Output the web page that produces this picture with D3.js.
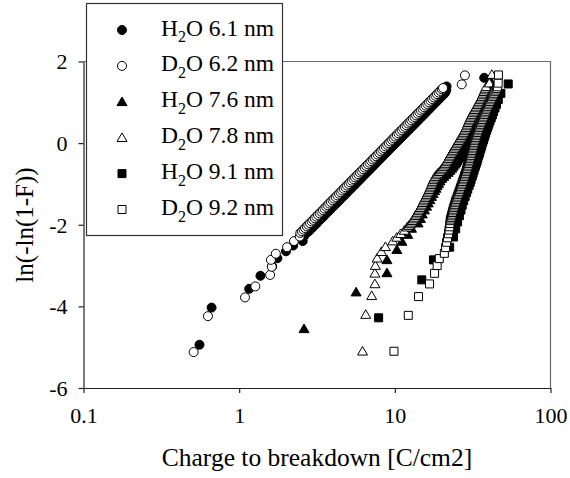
<!DOCTYPE html>
<html><head><meta charset="utf-8">
<script src="https://cdn.jsdelivr.net/npm/d3@7"></script>
<style>
body{margin:0;background:#fff}
svg{display:block}
</style>
</head><body>
<svg id="c" width="570" height="478" font-family="Liberation Serif, Times New Roman, DejaVu Serif, serif"></svg>
<script>
const FONT = "Liberation Serif, Times New Roman, DejaVu Serif, serif";
const xTicks = [0.1, 1, 10, 100];
const yTicks = [-6, -4, -2, 0, 2];
const seriesLabels = ["H2O 6.1 nm", "D2O 6.2 nm", "H2O 7.6 nm", "D2O 7.8 nm", "H2O 9.1 nm", "D2O 9.2 nm"];
const seriesShapes = ["circle", "circle", "triangle", "triangle", "square", "square"];
const seriesFilled = [true, false, true, false, true, false];
const xTitle = "Charge to breakdown [C/cm2]";
const yTitle = "ln(-ln(1-F))";

const h2o61 = [[0.556,-4.94],[0.665,-4.03],[1.16,-3.57],[1.37,-3.25],[1.63,-3.02],[1.76,-2.82],[2.00,-2.65],[2.22,-2.51],[2.56,-2.40],[2.62,-2.27],[2.76,-2.18],[2.83,-2.14],[2.90,-2.10],[2.97,-2.06],[3.04,-2.02],[3.12,-1.98],[3.19,-1.94],[3.26,-1.90],[3.34,-1.86],[3.43,-1.82],[3.51,-1.78],[3.59,-1.74],[3.67,-1.70],[3.77,-1.66],[3.85,-1.62],[3.94,-1.58],[4.05,-1.54],[4.14,-1.50],[4.24,-1.46],[4.35,-1.42],[4.45,-1.38],[4.55,-1.34],[4.67,-1.30],[4.78,-1.26],[4.90,-1.22],[5.01,-1.18],[5.13,-1.14],[5.26,-1.10],[5.38,-1.06],[5.52,-1.02],[5.64,-0.98],[5.79,-0.94],[5.92,-0.90],[6.07,-0.86],[6.21,-0.82],[6.35,-0.78],[6.51,-0.74],[6.67,-0.70],[6.83,-0.66],[7.00,-0.62],[7.16,-0.58],[7.34,-0.54],[7.51,-0.50],[7.69,-0.46],[7.88,-0.42],[8.06,-0.38],[8.26,-0.34],[8.46,-0.30],[8.66,-0.26],[8.87,-0.22],[9.09,-0.18],[9.30,-0.14],[9.52,-0.10],[9.76,-0.06],[9.99,-0.02],[10.23,0.02],[10.47,0.06],[10.73,0.10],[10.98,0.14],[11.25,0.18],[11.52,0.22],[11.80,0.26],[12.08,0.30],[12.37,0.34],[12.67,0.38],[12.98,0.42],[13.29,0.46],[13.61,0.50],[13.93,0.54],[14.27,0.58],[14.61,0.62],[14.97,0.66],[15.33,0.70],[15.69,0.74],[16.07,0.78],[16.46,0.82],[16.85,0.86],[17.26,0.90],[17.68,0.94],[18.10,0.98],[18.54,1.02],[18.98,1.06],[19.44,1.10],[19.91,1.14],[20.39,1.18],[20.88,1.22],[21.2,1.26],[21.4,1.31],[21.5,1.39],[37.5,1.60]];
const d2o62 = [[0.51,-5.12],[0.63,-4.24],[1.09,-3.78],[1.27,-3.51],[1.58,-3.23],[1.62,-3.03],[1.60,-2.86],[1.72,-2.71],[2.03,-2.55],[2.25,-2.40],[2.45,-2.29],[2.47,-2.20],[2.53,-2.16],[2.59,-2.12],[2.65,-2.08],[2.72,-2.04],[2.78,-2.00],[2.85,-1.96],[2.92,-1.92],[2.99,-1.88],[3.06,-1.84],[3.13,-1.80],[3.21,-1.76],[3.29,-1.72],[3.37,-1.68],[3.45,-1.64],[3.53,-1.60],[3.62,-1.56],[3.70,-1.52],[3.79,-1.48],[3.88,-1.44],[3.98,-1.40],[4.07,-1.36],[4.17,-1.32],[4.27,-1.28],[4.38,-1.24],[4.48,-1.20],[4.59,-1.16],[4.70,-1.12],[4.81,-1.08],[4.93,-1.04],[5.05,-1.00],[5.17,-0.96],[5.29,-0.92],[5.42,-0.88],[5.55,-0.84],[5.68,-0.80],[5.82,-0.76],[5.96,-0.72],[6.10,-0.68],[6.25,-0.64],[6.40,-0.60],[6.55,-0.56],[6.71,-0.52],[6.87,-0.48],[7.04,-0.44],[7.21,-0.40],[7.38,-0.36],[7.56,-0.32],[7.74,-0.28],[7.93,-0.24],[8.12,-0.20],[8.31,-0.16],[8.51,-0.12],[8.72,-0.08],[8.93,-0.04],[9.14,0.00],[9.36,0.04],[9.59,0.08],[9.82,0.12],[10.05,0.16],[10.30,0.20],[10.54,0.24],[10.80,0.28],[11.06,0.32],[11.32,0.36],[11.59,0.40],[11.87,0.44],[12.16,0.48],[12.45,0.52],[12.75,0.56],[13.06,0.60],[13.37,0.64],[13.69,0.68],[14.02,0.72],[14.36,0.76],[14.71,0.80],[15.06,0.84],[15.42,0.88],[15.79,0.92],[16.17,0.96],[16.56,1.00],[16.96,1.04],[17.37,1.08],[17.79,1.12],[18.22,1.16],[18.65,1.20],[19.10,1.24],[19.56,1.28],[20.03,1.32],[20.4,1.35],[26.9,1.44],[28.2,1.66]];
const h2o76 = [[2.61,-4.55],[5.64,-3.65],[8.9,-3.18],[8.9,-2.86],[10.3,-2.61],[11.1,-2.41],[12.1,-2.24],[12.8,-2.09],[14.1,-1.96],[14.6,-1.85],[15.0,-1.74],[15.5,-1.64],[16.0,-1.55],[16.4,-1.47],[16.8,-1.39],[17.2,-1.31],[17.6,-1.24],[18.0,-1.17],[18.4,-1.11],[18.7,-1.04],[19.1,-0.99],[19.5,-0.93],[20.0,-0.87],[20.6,-0.82],[21.3,-0.77],[22.0,-0.72],[22.6,-0.67],[23.2,-0.62],[23.7,-0.57],[24.2,-0.52],[24.7,-0.48],[25.1,-0.43],[25.6,-0.39],[26.0,-0.35],[26.4,-0.30],[26.9,-0.26],[27.3,-0.22],[27.7,-0.18],[28.1,-0.13],[28.5,-0.09],[29.0,-0.05],[29.4,-0.01],[29.8,0.03],[30.2,0.07],[30.6,0.11],[31.0,0.15],[31.4,0.20],[31.8,0.24],[32.2,0.28],[32.6,0.32],[33.0,0.37],[33.4,0.41],[33.8,0.46],[34.3,0.50],[34.8,0.55],[35.3,0.60],[35.9,0.65],[36.5,0.71],[37.2,0.77],[37.9,0.83],[38.6,0.90],[39.3,0.97],[40.0,1.06],[40.5,1.16],[40.8,1.30],[41.5,1.50]];
const d2o78 = [[6.2,-5.10],[6.5,-4.20],[7.1,-3.74],[7.45,-3.45],[7.45,-3.19],[7.5,-3.00],[7.7,-2.82],[8.2,-2.66],[8.7,-2.54],[9.7,-2.40],[10.3,-2.31],[10.9,-2.22],[11.5,-2.14],[12.0,-2.06],[12.3,-2.02],[12.6,-1.98],[12.8,-1.94],[13.0,-1.90],[13.2,-1.86],[13.4,-1.82],[13.6,-1.78],[13.8,-1.74],[14.0,-1.70],[14.2,-1.66],[14.4,-1.62],[14.6,-1.58],[14.8,-1.54],[15.0,-1.50],[15.15,-1.46],[15.3,-1.42],[15.5,-1.38],[15.7,-1.34],[15.9,-1.30],[16.1,-1.26],[16.3,-1.22],[16.5,-1.18],[16.65,-1.14],[16.8,-1.10],[17.0,-1.06],[17.2,-1.02],[17.35,-0.98],[17.5,-0.94],[17.7,-0.90],[17.9,-0.86],[18.2,-0.82],[18.5,-0.78],[18.9,-0.74],[19.4,-0.70],[19.8,-0.66],[20.2,-0.62],[20.55,-0.58],[20.9,-0.54],[21.2,-0.50],[21.5,-0.46],[21.8,-0.42],[22.1,-0.38],[22.4,-0.34],[22.7,-0.30],[23.0,-0.26],[23.3,-0.22],[23.65,-0.18],[24.0,-0.14],[24.35,-0.10],[24.7,-0.06],[25.05,-0.02],[25.4,0.02],[25.75,0.06],[26.1,0.10],[26.5,0.14],[26.9,0.18],[27.3,0.22],[27.7,0.26],[28.05,0.30],[28.4,0.34],[28.7,0.38],[29.0,0.42],[29.3,0.46],[29.6,0.50],[29.9,0.54],[30.2,0.58],[30.55,0.62],[30.9,0.66],[31.3,0.70],[31.7,0.74],[32.15,0.78],[32.6,0.82],[33.05,0.86],[33.5,0.90],[33.95,0.94],[34.4,0.98],[34.85,1.02],[35.3,1.06],[35.75,1.10],[36.2,1.14],[36.6,1.18],[37.0,1.22],[37.4,1.26],[37.8,1.30],[38.2,1.34],[38.6,1.38],[40.5,1.47],[42.0,1.68]];
const h2o91 = [[7.87,-4.28],[14.9,-3.35],[17.7,-2.86],[22.5,-2.55],[23.8,-2.30],[24.6,-2.10],[25.3,-1.93],[26.0,-1.78],[26.6,-1.64],[27.1,-1.52],[27.7,-1.41],[28.3,-1.31],[28.9,-1.21],[29.4,-1.13],[30.0,-1.04],[30.5,-0.96],[30.9,-0.89],[31.4,-0.81],[31.8,-0.74],[32.2,-0.68],[32.6,-0.61],[33.0,-0.55],[33.4,-0.49],[33.8,-0.43],[34.1,-0.37],[34.5,-0.31],[34.9,-0.25],[35.2,-0.20],[35.6,-0.14],[36.0,-0.08],[36.3,-0.03],[36.7,0.03],[37.1,0.08],[37.5,0.14],[37.9,0.19],[38.3,0.25],[38.8,0.31],[39.3,0.37],[39.8,0.43],[40.3,0.49],[40.9,0.55],[41.6,0.62],[42.3,0.69],[43.1,0.77],[44.0,0.86],[45.0,0.95],[46.2,1.07],[48.0,1.22],[53.5,1.45]];
const d2o92 = [[9.87,-5.10],[12.2,-4.22],[14.2,-3.76],[16.7,-3.45],[18.0,-3.19],[18.7,-3.00],[19.3,-2.83],[20.8,-2.70],[21.2,-2.56],[21.5,-2.43],[21.8,-2.32],[22.1,-2.22],[22.3,-2.13],[22.5,-2.05],[22.6,-1.97],[22.7,-1.90],[22.85,-1.86],[23.0,-1.82],[23.15,-1.78],[23.3,-1.74],[23.45,-1.70],[23.6,-1.66],[23.75,-1.62],[23.9,-1.58],[24.1,-1.54],[24.3,-1.50],[24.45,-1.46],[24.6,-1.42],[24.85,-1.38],[25.1,-1.34],[25.3,-1.30],[25.5,-1.26],[25.75,-1.22],[26.0,-1.18],[26.2,-1.14],[26.4,-1.10],[26.65,-1.06],[26.9,-1.02],[27.1,-0.98],[27.3,-0.94],[27.55,-0.90],[27.8,-0.86],[28.0,-0.82],[28.2,-0.78],[28.45,-0.74],[28.7,-0.70],[28.9,-0.66],[29.1,-0.62],[29.35,-0.58],[29.6,-0.54],[29.8,-0.50],[30.0,-0.46],[30.2,-0.42],[30.4,-0.38],[30.6,-0.34],[30.8,-0.30],[31.0,-0.26],[31.2,-0.22],[31.4,-0.18],[31.6,-0.14],[31.8,-0.10],[32.0,-0.06],[32.2,-0.02],[32.4,0.02],[32.65,0.06],[32.9,0.10],[33.15,0.14],[33.4,0.18],[33.65,0.22],[33.9,0.26],[34.2,0.30],[34.5,0.34],[34.8,0.38],[35.1,0.42],[35.45,0.46],[35.8,0.50],[36.15,0.54],[36.5,0.58],[36.85,0.62],[37.2,0.66],[37.55,0.70],[37.9,0.74],[38.3,0.78],[38.7,0.82],[39.1,0.86],[39.5,0.90],[39.95,0.94],[40.4,0.98],[40.85,1.02],[41.3,1.06],[41.8,1.10],[42.3,1.14],[42.85,1.18],[43.4,1.22],[44.0,1.26],[44.6,1.30],[45.1,1.34],[45.6,1.38],[46.1,1.47],[46.3,1.67]];
const seriesData = [h2o61, d2o62, h2o76, d2o78, h2o91, d2o92];

const svg = d3.select("#c");
const x = d3.scaleLog().domain([0.1, 100]).range([83.5, 550.5]);
const y = d3.scaleLinear().domain([-6, 2]).range([388, 61.5]);

const shapePath = {
  circle: "M4.5,0A4.5,4.5 0 1,1 -4.5,0A4.5,4.5 0 1,1 4.5,0Z",
  triangle: "M0,-4.8L5,3.8L-5,3.8Z",
  square: "M-4,-4H4V4H-4Z"
};

// plot frame top / right
svg.append("path")
  .attr("d", `M${x(0.1)},${y(2)}H${x(100)}V${y(-6)}`)
  .attr("fill", "none").attr("stroke", "#6a6a6a").attr("stroke-width", 1.2);

// axes
const xa = svg.append("g").attr("transform", `translate(0,${y(-6)})`)
  .call(d3.axisBottom(x).tickValues(xTicks).tickFormat(d3.format("~g"))
    .tickSize(5).tickSizeOuter(0).tickPadding(14));
const ya = svg.append("g").attr("transform", `translate(${x(0.1)},0)`)
  .call(d3.axisLeft(y).tickValues(yTicks).tickFormat(d => d)
    .tickSize(5).tickSizeOuter(0).tickPadding(11));
[xa, ya].forEach(g => {
  g.attr("font-family", FONT).attr("font-size", 22);
  g.selectAll("path,line").attr("stroke", "#222").attr("stroke-width", 1.2);
  g.selectAll("text").attr("font-size", 22).attr("font-family", FONT).attr("fill", "#000");
});
ya.selectAll("text").attr("dy", "0.33em");

// data
seriesData.forEach((data, i) => {
  svg.append("g").selectAll("path").data(data).join("path")
    .attr("transform", d => `translate(${x(d[0])},${y(d[1])})`)
    .attr("d", shapePath[seriesShapes[i]])
    .attr("fill", seriesFilled[i] ? "#000" : "#fff")
    .attr("stroke", "#000").attr("stroke-width", 1);
});

// axis titles
svg.append("text").attr("x", 317).attr("y", 466).attr("text-anchor", "middle")
  .attr("font-family", FONT).attr("font-size", 25.5).text(xTitle);
svg.append("text").attr("transform", "translate(24,225) rotate(-90)")
  .attr("text-anchor", "middle").attr("dy", "0.35em")
  .attr("font-family", FONT).attr("font-size", 25).text(yTitle);

// legend
const lg = svg.append("g").attr("font-family", FONT);
lg.append("rect").attr("x", 86.5).attr("y", 3.5).attr("width", 196).attr("height", 232)
  .attr("fill", "#fff").attr("stroke", "#333").attr("stroke-width", 1.2);
seriesLabels.forEach((lab, i) => {
  const cy = 30 + i * 35.9;
  lg.append("path").attr("transform", `translate(122,${cy})`)
    .attr("d", shapePath[seriesShapes[i]])
    .attr("fill", seriesFilled[i] ? "#000" : "#fff")
    .attr("stroke", "#000").attr("stroke-width", 1);
  const t = lg.append("text").attr("x", 161).attr("y", cy + 5.5)
    .attr("font-family", FONT).attr("font-size", 23.5);
  t.append("tspan").text(lab.slice(0, 1));
  t.append("tspan").attr("font-size", 16).attr("dy", 6.5).text(lab.slice(1, 2));
  t.append("tspan").attr("dy", -6.5).text(lab.slice(2));
});
</script>
</body></html>
